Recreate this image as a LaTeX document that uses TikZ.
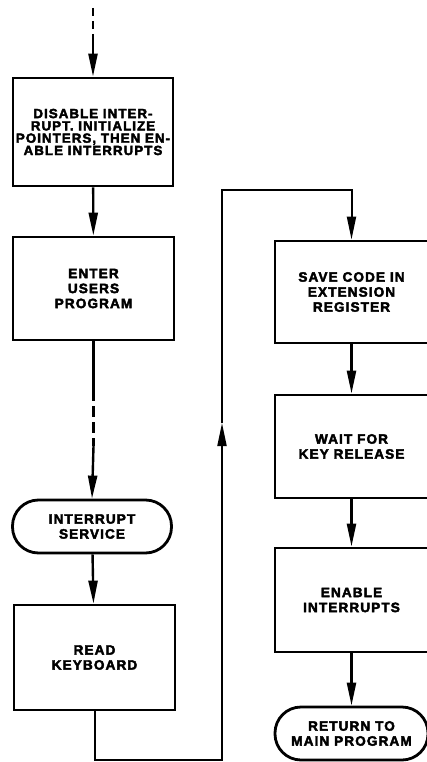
\documentclass[tikz,border=0pt]{standalone}
\usepackage{fontspec}
\setmainfont{Liberation Sans}[LetterSpace=8,FakeBold=3]
\usetikzlibrary{arrows.meta}
\tikzset{
  procbox/.style={draw, line width=2.8pt, rectangle, align=center, inner sep=0pt,
    font=\bfseries\fontsize{13.6}{15}\selectfont},
  termbox/.style={procbox, rounded corners=26pt},
  flow/.style={line width=2.4pt, -{Triangle[length=23pt,width=9pt]}},
  plainline/.style={line width=2.4pt},
  loopline/.style={line width=2pt},
  dashline/.style={line width=2.4pt, dash pattern=on 8pt off 5pt},
}
\begin{document}
\begin{tikzpicture}[x=1pt,y=-1pt]
\useasboundingbox (0,0) rectangle (427,762);
\node[procbox, minimum width=160pt, minimum height=108pt, font=\bfseries\fontsize{13.3}{12.3}\selectfont] (b1) at (93,132)
  {DISABLE INTER-\\RUPT. INITIALIZE\\POINTERS, THEN EN-\\ABLE INTERRUPTS};
\node[procbox, minimum width=161pt, minimum height=103pt] (b2) at (93.5,288.5) {ENTER\\USERS\\PROGRAM};
\node[termbox, minimum width=159pt, minimum height=53pt] (intr) at (92,526.5) {INTERRUPT\\SERVICE};
\node[procbox, minimum width=161pt, minimum height=105pt] (read) at (94.5,657.5) {READ\\KEYBOARD};
\node[procbox, minimum width=153pt, minimum height=102pt] (save) at (351.5,292) {SAVE CODE IN\\EXTENSION\\REGISTER};
\node[procbox, minimum width=153pt, minimum height=103pt] (wait) at (351.5,446.5) {WAIT FOR\\KEY RELEASE};
\node[procbox, minimum width=153pt, minimum height=104pt] (enab) at (351.5,600) {ENABLE\\INTERRUPTS};
\node[termbox, minimum width=153pt, minimum height=53pt] (ret) at (351.5,733.5) {RETURN TO\\MAIN PROGRAM};

% top entry
\coordinate (top) at (b1.north |- 0,8);
\coordinate (topd) at (b1.north |- 0,42);
\draw[dashline] (top) -- (topd);
\draw[flow] (topd) -- (b1.north);

\draw[flow] (b1) -- (b2);

% user program with break
\coordinate (d1) at (b2.south |- 0,390);
\coordinate (d2) at (b2.south |- 0,446);
\draw[plainline] (b2.south) -- (d1);
\draw[line width=2.4pt, dash pattern=on 11pt off 5pt] (d1) -- (d2);
\draw[flow] (d2) -- (intr.north);

\draw[flow] (intr) -- (read);

% loop to save
\coordinate (rb) at (222,760);
\coordinate (lb) at (read.south |- rb);
\coordinate (ua) at (222,423);
\coordinate (rt) at (222,190);
\draw[loopline, -{Triangle[length=23pt,width=9pt]}] (read.south) -- (lb) -- (rb) -- (ua);
\draw[loopline, -{Triangle[length=23pt,width=9pt]}] (ua) -- (rt) -| (save.north);

\draw[flow] (save) -- (wait);
\draw[flow] (wait) -- (enab);
\draw[flow] (enab) -- (ret);
\end{tikzpicture}
\end{document}
